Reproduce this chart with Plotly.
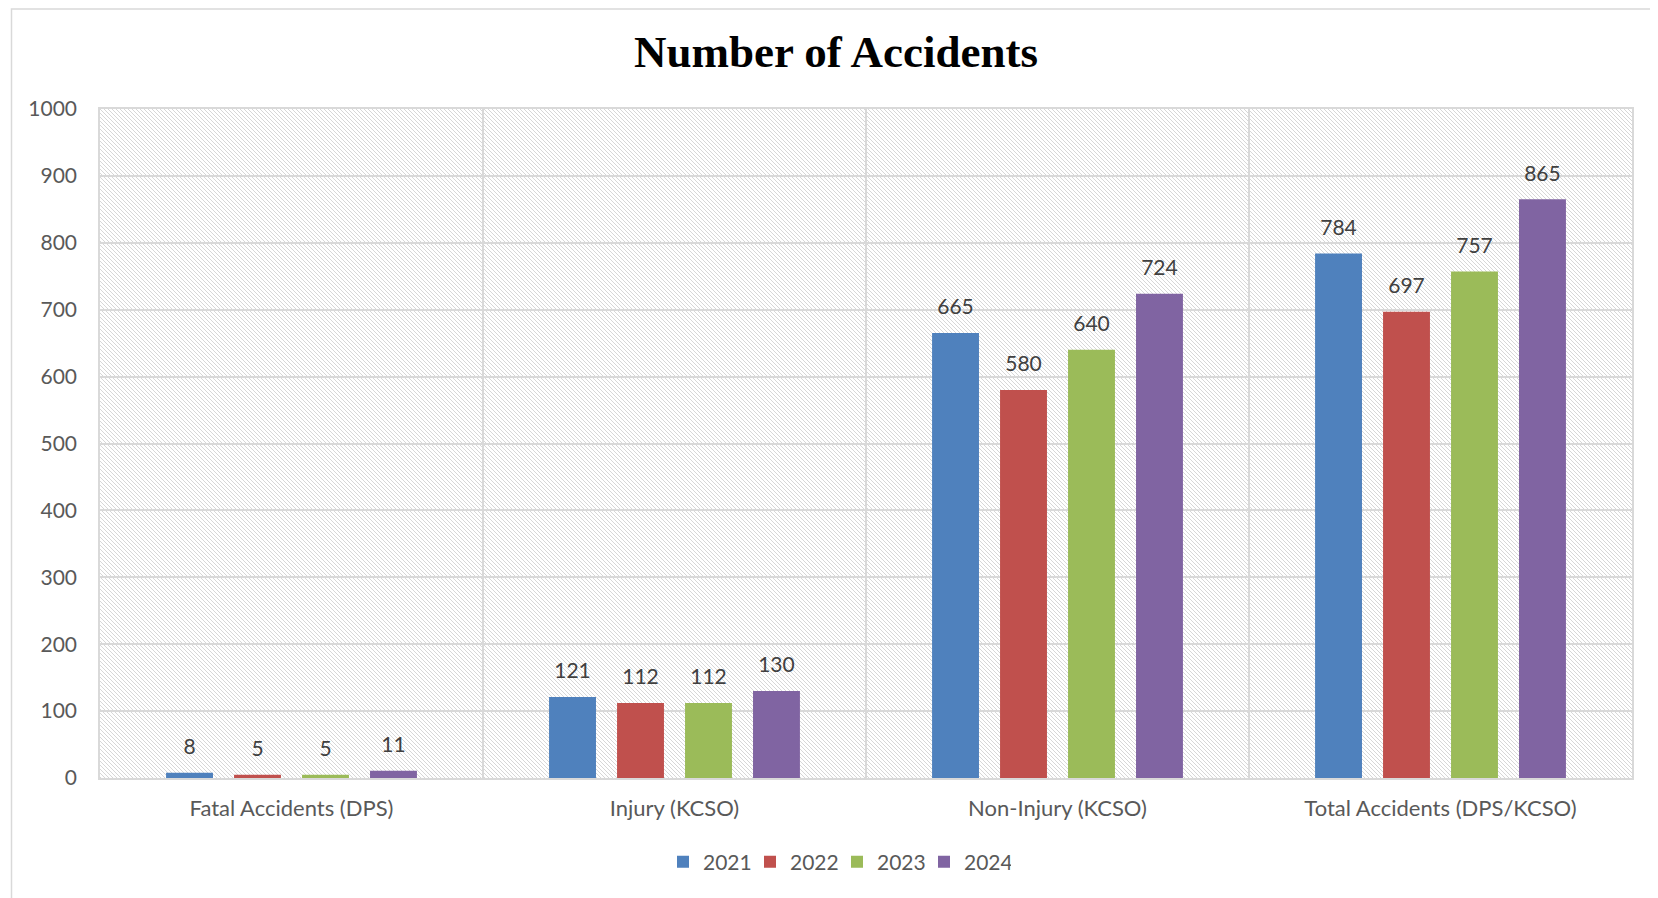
import base64
import plotly.graph_objects as go

categories = ["Fatal Accidents (DPS)", "Injury (KCSO)", "Non-Injury (KCSO)", "Total Accidents (DPS/KCSO)"]
years = ["2021", "2022", "2023", "2024"]
values_2021 = [8, 121, 665, 784]
values_2022 = [5, 112, 580, 697]
values_2023 = [5, 112, 640, 757]
values_2024 = [11, 130, 724, 865]
series_values = [values_2021, values_2022, values_2023, values_2024]
colors = ["#4F81BD", "#C0504D", "#9BBB59", "#8064A2"]
y_ticks = [0, 100, 200, 300, 400, 500, 600, 700, 800, 900, 1000]

OFF = 8  # page body margin
W, H = 1658 - OFF, 898 - OFF
L, T = 100 - OFF, 109 - OFF
R = W - (1632 - OFF)
B = H - (778 - OFF)
PW, PH = W - L - R, H - T - B

FONT = "Lato, 'Open Sans', sans-serif"
BARGAP = 0.29

fig = go.Figure()
for name, vals, col in zip(years, series_values, colors):
    fig.add_trace(go.Bar(
        name=name, x=categories, y=vals, marker=dict(color=col, line=dict(width=0)),
        hoverinfo="x+y+name",
    ))
# value labels (invisible markers push text above bar tops)
for name, vals in zip(years, series_values):
    fig.add_trace(go.Scatter(
        name=name, x=categories, y=vals, mode="markers+text", showlegend=False,
        marker=dict(size=20, opacity=0, color="rgba(0,0,0,0)"),
        text=[str(v) for v in vals], textposition="top center",
        textfont=dict(family=FONT, size=21, color="#404040"),
        cliponaxis=False, hoverinfo="skip",
    ))

# hatched plot-area background
svg = (
    f"<svg xmlns='http://www.w3.org/2000/svg' width='{PW}' height='{PH}' viewBox='0 0 {PW} {PH}' preserveAspectRatio='none'>"
    "<defs><pattern id='p' width='4' height='4' patternUnits='userSpaceOnUse'>"
    "<path d='M-1,-1 L5,5 M-1,3 L1,5 M3,-1 L5,1' stroke='#d2d2d2' stroke-width='0.9'/>"
    "</pattern></defs><rect width='100%' height='100%' fill='white'/>"
    "<rect width='100%' height='100%' fill='url(#p)'/></svg>"
)
uri = "data:image/svg+xml;base64," + base64.b64encode(svg.encode()).decode()
fig.add_layout_image(dict(source=uri, xref="paper", yref="paper", x=0, y=1, sizex=1, sizey=1,
                          xanchor="left", yanchor="top", sizing="stretch", layer="below"))


def px_x(p):
    return (p - OFF - L) / PW


def px_y(p):
    return (H - B - (p - OFF)) / PH


# outer chart border
fig.add_shape(type="rect", xref="paper", yref="paper", x0=px_x(11.5), y0=px_y(9), x1=px_x(1720), y1=px_y(960),
              line=dict(color="#d9d9d9", width=1.5), fillcolor="rgba(0,0,0,0)", layer="below")

fig.update_layout(
    width=W, height=H,
    margin=dict(l=L, r=R, t=T, b=B),
    paper_bgcolor="white", plot_bgcolor="white",
    barmode="group", bargap=BARGAP, bargroupgap=0.31,
    scattermode="group", scattergap=BARGAP,
    title=dict(text="<b>Number of Accidents</b>", x=(836 - OFF) / W, xanchor="center",
               y=1 - (51 - OFF) / H, yanchor="middle",
               font=dict(family="'Liberation Serif', serif", size=45, color="black")),
    font=dict(family=FONT, color="#595959"),
    legend=dict(orientation="h", x=px_x(837), xanchor="center", y=px_y(862), yanchor="middle",
                font=dict(family=FONT, size=21, color="#595959"), traceorder="normal",
                entrywidth=42, itemwidth=30),
    xaxis=dict(type="category", tickson="boundaries", showgrid=True, gridcolor="#d9d9d9", gridwidth=1.5,
               showline=True, mirror=True, linecolor="#d9d9d9", linewidth=1.5, ticks="",
               tickfont=dict(family=FONT, size=22, color="#595959"), ticklabelstandoff=10),
    yaxis=dict(range=[0, 1000], tickvals=y_ticks, showgrid=True, gridcolor="#d9d9d9", gridwidth=1.5,
               showline=True, mirror=True, linecolor="#d9d9d9", linewidth=1.5, zeroline=False, ticks="",
               tickfont=dict(family=FONT, size=21, color="#595959"), ticklabelstandoff=17),
)

fig.write_html("out.html")
